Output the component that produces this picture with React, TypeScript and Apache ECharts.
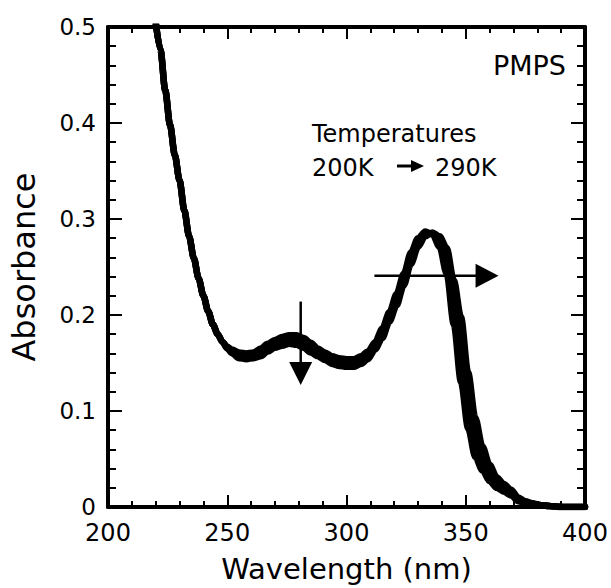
import React, { useEffect, useRef } from "react";
import * as echarts from "echarts";

// Wavelength grid (nm)
const wavelengths = [
  220, 222, 224, 226, 228, 230, 232, 234, 236, 238, 240, 242, 244, 246, 248, 250,
  252, 255, 258, 261, 264, 267, 270, 273, 276, 279, 282, 285, 288, 291, 294, 297,
  300, 303, 306, 309, 312, 315, 318, 321, 324, 327, 330, 333, 336, 339, 342, 345,
  348, 351, 354, 357, 360, 363, 366, 369, 372, 375, 378, 381, 385, 390, 400,
];

// Absorbance at 200 K (upper / left edge of the band)
const abs200K = [
  0.505, 0.476, 0.434, 0.398, 0.367, 0.34, 0.309, 0.282, 0.259, 0.238, 0.22, 0.204, 0.19, 0.18, 0.172, 0.167,
  0.164, 0.161, 0.16, 0.161, 0.165, 0.17, 0.174, 0.177, 0.179, 0.179, 0.176, 0.171, 0.165, 0.161, 0.157, 0.155,
  0.154, 0.154, 0.157, 0.162, 0.172, 0.186, 0.203, 0.222, 0.243, 0.265, 0.28, 0.287, 0.284, 0.271, 0.243, 0.19,
  0.13, 0.082, 0.052, 0.038, 0.027, 0.02, 0.016, 0.012, 0.006, 0.004, 0.003, 0.002, 0.001, 0, 0,
];

// Absorbance at an intermediate temperature (centre of the band)
const abs245K = [
  0.505, 0.476, 0.434, 0.398, 0.367, 0.34, 0.309, 0.282, 0.259, 0.238, 0.22, 0.204, 0.19, 0.18, 0.172, 0.166,
  0.162, 0.158, 0.157, 0.158, 0.161, 0.166, 0.17, 0.173, 0.175, 0.174, 0.171, 0.166, 0.161, 0.157, 0.153, 0.151,
  0.15, 0.15, 0.153, 0.158, 0.168, 0.181, 0.198, 0.216, 0.237, 0.259, 0.276, 0.285, 0.285, 0.277, 0.258, 0.213,
  0.165, 0.11, 0.071, 0.05, 0.035, 0.025, 0.02, 0.015, 0.008, 0.005, 0.003, 0.002, 0.001, 0, 0,
];

// Absorbance at 290 K (lower / right edge of the band)
const abs290K = [
  0.505, 0.476, 0.434, 0.398, 0.367, 0.34, 0.309, 0.282, 0.259, 0.238, 0.22, 0.204, 0.19, 0.18, 0.172, 0.165,
  0.16, 0.155, 0.154, 0.155, 0.157, 0.162, 0.166, 0.168, 0.17, 0.169, 0.166, 0.161, 0.157, 0.153, 0.149, 0.147,
  0.146, 0.146, 0.149, 0.154, 0.164, 0.176, 0.193, 0.21, 0.231, 0.253, 0.271, 0.282, 0.286, 0.282, 0.27, 0.236,
  0.198, 0.14, 0.093, 0.063, 0.044, 0.031, 0.024, 0.018, 0.01, 0.006, 0.004, 0.002, 0.001, 0, 0,
];

const seriesNames = ["200K", "245K", "290K"];
const seriesValues = [abs200K, abs245K, abs290K];

const xTitle = "Wavelength (nm)";
const yTitle = "Absorbance";
const sampleLabel = "PMPS";
const tempTitle = "Temperatures";
const tempFrom = "200K";
const tempTo = "290K";

export default function App() {
  const ref = useRef<HTMLDivElement>(null);

  useEffect(() => {
    const el = ref.current;
    if (!el) return;
    const chart = echarts.init(el, null, { renderer: "svg" });
    const font = "DejaVu Sans";
    const black = "#000";

    const xCommon = {
      type: "value" as const,
      min: 200,
      max: 400,
      interval: 50,
      splitLine: { show: false },
      axisLine: { show: true, onZero: false, lineStyle: { color: black, width: 4 } },
      axisTick: { show: true, inside: true, length: 12, lineStyle: { color: black, width: 2 } },
      minorTick: { show: true, splitNumber: 5, length: 6, lineStyle: { color: black, width: 2 } },
    };
    const yCommon = {
      type: "value" as const,
      min: 0,
      max: 0.5,
      interval: 0.1,
      splitLine: { show: false },
      axisLine: { show: true, onZero: false, lineStyle: { color: black, width: 4 } },
      axisTick: { show: true, inside: true, length: 14, lineStyle: { color: black, width: 2 } },
      minorTick: { show: true, splitNumber: 5, length: 8, lineStyle: { color: black, width: 2 } },
    };

    chart.setOption({
      animation: false,
      backgroundColor: "#fff",
      grid: { left: 105, right: 26, top: 27, bottom: 80, containLabel: false },
      xAxis: [
        {
          ...xCommon,
          position: "bottom",
          name: xTitle,
          nameLocation: "middle",
          nameGap: 47,
          nameTextStyle: { fontFamily: font, fontSize: 29, color: black },
          axisLabel: { show: true, margin: 17, lineHeight: 18, fontFamily: font, fontSize: 24, color: black },
        },
        { ...xCommon, position: "top", axisLabel: { show: false } },
      ],
      yAxis: [
        {
          ...yCommon,
          position: "left",
          name: yTitle,
          nameLocation: "middle",
          nameGap: 68,
          nameTextStyle: { fontFamily: font, fontSize: 32, color: black },
          axisLabel: { show: true, margin: 12, lineHeight: 18, fontFamily: font, fontSize: 23, color: black },
        },
        { ...yCommon, position: "right", axisLabel: { show: false } },
      ],
      series: seriesNames.map((name, si) => ({
        type: "line",
        name,
        xAxisIndex: 0,
        yAxisIndex: 0,
        data: wavelengths.map((w, i) => [w, seriesValues[si][i]]),
        symbol: "none",
        showSymbol: false,
        smooth: 0.3,
        smoothMonotone: "x",
        clip: true,
        silent: true,
        lineStyle: { color: black, width: 6.5, cap: "round", join: "round" },
      })),
    });

    const p = (x: number, y: number) => chart.convertToPixel({ gridIndex: 0 }, [x, y]) as number[];

    // Down arrow at ~281 nm (absorbance decreases with temperature)
    const dTop = p(280.8, 0.214);
    const dTip = p(280.8, 0.127);
    // Right arrow at A ~ 0.241 (red shift with temperature)
    const rStart = p(311.7, 0.241);
    const rTip = p(363.75, 0.241);

    chart.setOption({
      graphic: [
        {
          type: "line",
          shape: { x1: dTop[0], y1: dTop[1], x2: dTip[0], y2: dTip[1] - 18 },
          style: { stroke: black, lineWidth: 2.5 },
          z: 100,
        },
        {
          type: "polygon",
          shape: { points: [[dTip[0], dTip[1]], [dTip[0] - 11.5, dTip[1] - 23], [dTip[0] + 11.5, dTip[1] - 23]] },
          style: { fill: black },
          z: 100,
        },
        {
          type: "line",
          shape: { x1: rStart[0], y1: rStart[1], x2: rTip[0] - 18, y2: rTip[1] },
          style: { stroke: black, lineWidth: 2.5 },
          z: 100,
        },
        {
          type: "polygon",
          shape: { points: [[rTip[0], rTip[1]], [rTip[0] - 23, rTip[1] - 12], [rTip[0] - 23, rTip[1] + 12]] },
          style: { fill: black },
          z: 100,
        },
        {
          type: "text",
          x: 566,
          y: 65,
          style: { text: sampleLabel, fontFamily: font, fontSize: 27, fill: black, align: "right", verticalAlign: "middle" },
          z: 100,
        },
        {
          type: "text",
          x: 312,
          y: 134,
          style: { text: tempTitle, fontFamily: font, fontSize: 24, fill: black, align: "left", verticalAlign: "middle" },
          z: 100,
        },
        {
          type: "text",
          x: 312,
          y: 168,
          style: { text: tempFrom, fontFamily: font, fontSize: 24, fill: black, align: "left", verticalAlign: "middle" },
          z: 100,
        },
        {
          type: "line",
          shape: { x1: 397, y1: 166, x2: 414, y2: 166 },
          style: { stroke: black, lineWidth: 3 },
          z: 100,
        },
        {
          type: "polygon",
          shape: { points: [[424, 166], [411, 160], [411, 172]] },
          style: { fill: black },
          z: 100,
        },
        {
          type: "text",
          x: 435,
          y: 168,
          style: { text: tempTo, fontFamily: font, fontSize: 24, fill: black, align: "left", verticalAlign: "middle" },
          z: 100,
        },
      ],
    });

    return () => {
      chart.dispose();
    };
  }, []);

  return (
    <div
      ref={ref}
      style={{ position: "absolute", left: 0, top: 0, width: 611, height: 588, background: "#fff" }}
    />
  );
}
